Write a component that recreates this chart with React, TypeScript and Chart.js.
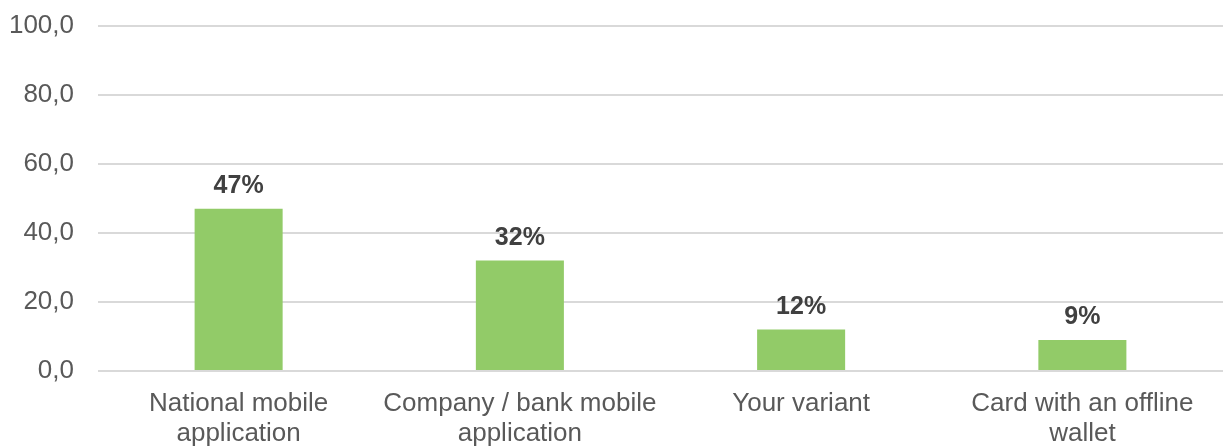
import React, { useEffect, useRef } from "react";
import { Chart, registerables } from "chart.js";

Chart.register(...registerables);

const categories: string[][] = [
  ["National mobile", "application"],
  ["Company / bank mobile", "application"],
  ["Your variant"],
  ["Card with an offline", "wallet"],
];
const values: number[] = [47, 32, 12, 9];
const yTicks: number[] = [0, 20, 40, 60, 80, 100];

const FONT = "'Liberation Sans', Arial, sans-serif";

const dataLabelPlugin = {
  id: "dataLabels",
  afterDatasetsDraw(chart: any) {
    const ctx = chart.ctx;
    const meta = chart.getDatasetMeta(0);
    ctx.save();
    ctx.font = `bold 25px ${FONT}`;
    ctx.fillStyle = "#404040";
    ctx.textAlign = "center";
    ctx.textBaseline = "alphabetic";
    meta.data.forEach((bar: any, i: number) => {
      ctx.fillText(`${values[i]}%`, bar.x, bar.y - 16);
    });
    ctx.restore();
  },
};

export default function App() {
  const ref = useRef<HTMLCanvasElement>(null);
  useEffect(() => {
    if (!ref.current) return;
    const chart = new Chart(ref.current, {
      type: "bar",
      data: {
        labels: categories,
        datasets: [
          {
            data: values,
            backgroundColor: "#92CB68",
            borderWidth: 0,
            categoryPercentage: 1,
            barPercentage: 0.313,
          },
        ],
      },
      options: {
        animation: false,
        responsive: false,
        maintainAspectRatio: false,
        layout: { padding: { top: 0, right: 1, bottom: 0, left: 0 } },
        plugins: { legend: { display: false }, tooltip: { enabled: false } },
        scales: {
          x: {
            grid: { display: false },
            border: { display: false },
            ticks: {
              color: "#595959",
              font: { family: FONT, size: 26, lineHeight: 1.15 },
              padding: 10,
              maxRotation: 0,
              autoSkip: false,
            },
            afterFit(scale: any) {
              scale.height = 75;
            },
          },
          y: {
            min: 0,
            max: 100,
            afterBuildTicks(scale: any) {
              scale.ticks = yTicks.map((v) => ({ value: v }));
            },
            grid: { color: "#D9D9D9", lineWidth: 2, drawTicks: false },
            border: { display: false },
            ticks: {
              color: "#595959",
              font: { family: FONT, size: 26 },
              padding: 24,
              callback: (v: any) => Number(v).toFixed(1).replace(".", ","),
            },
            afterFit(scale: any) {
              scale.width = 98;
              scale.paddingTop = 26;
              scale.paddingBottom = 0;
            },
          },
        },
      },
      plugins: [dataLabelPlugin],
    });
    return () => chart.destroy();
  }, []);
  return (
    <div style={{ position: "fixed", left: 0, top: 0, width: 1224, height: 446, background: "#fff" }}>
      <canvas ref={ref} width={1224} height={446} style={{ width: 1224, height: 446 }} />
    </div>
  );
}
